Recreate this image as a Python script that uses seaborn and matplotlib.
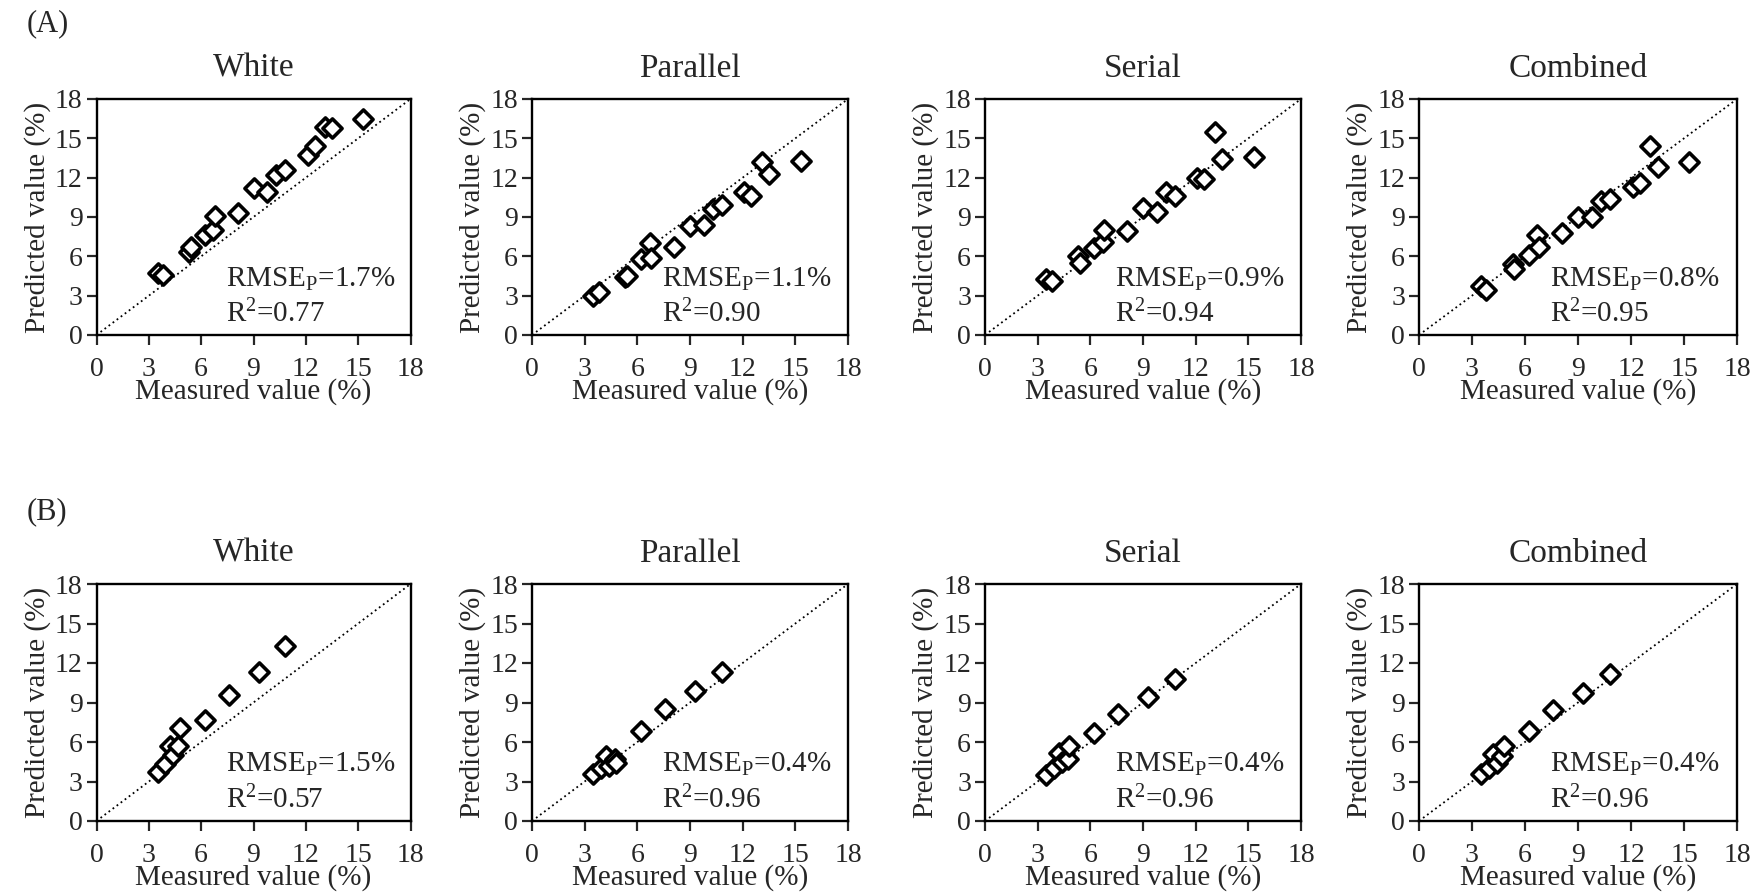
import numpy as np
import pandas as pd
import matplotlib
matplotlib.use('Agg')
import matplotlib.pyplot as plt
import seaborn as sns

# measured values (x), shared by all panels of a row
measured_a = [3.5, 3.8, 5.3, 5.4, 6.2, 6.7, 6.8, 8.1, 9.0, 9.8, 10.3, 10.8, 12.1, 12.5, 13.1, 13.5, 15.3]
measured_b = [3.5, 3.95, 4.2, 4.4, 4.7, 4.8, 6.2, 7.6, 9.3, 10.8]

# predicted values (y)
white_a = [4.7, 4.6, 6.3, 6.7, 7.6, 8.0, 9.1, 9.3, 11.2, 10.9, 12.2, 12.6, 13.7, 14.4, 15.9, 15.8, 16.5]
parallel_a = [3.0, 3.3, 4.4, 4.5, 5.8, 7.0, 5.9, 6.7, 8.3, 8.4, 9.6, 9.9, 10.9, 10.6, 13.2, 12.3, 13.3]
serial_a = [4.3, 4.1, 6.0, 5.5, 6.6, 7.1, 8.0, 7.9, 9.7, 9.4, 10.9, 10.6, 12.0, 11.9, 15.5, 13.4, 13.6]
combined_a = [3.7, 3.4, 5.4, 5.0, 6.1, 7.6, 6.7, 7.8, 9.0, 9.0, 10.2, 10.4, 11.3, 11.6, 14.4, 12.8, 13.2]

white_b = [3.7, 4.3, 5.7, 5.0, 5.7, 7.1, 7.7, 9.6, 11.3, 13.3]
parallel_b = [3.6, 4.0, 4.9, 4.2, 4.7, 4.4, 6.8, 8.5, 9.9, 11.3]
serial_b = [3.5, 4.0, 5.2, 4.5, 4.7, 5.7, 6.7, 8.1, 9.4, 10.8]
combined_b = [3.55, 4.05, 5.1, 4.4, 4.9, 5.7, 6.85, 8.4, 9.7, 11.2]

titles = ['White', 'Parallel', 'Serial', 'Combined']
rmse_a = ['1.7', '1.1', '0.9', '0.8']
r2_a = ['0.77', '0.90', '0.94', '0.95']
rmse_b = ['1.5', '0.4', '0.4', '0.4']
r2_b = ['0.57', '0.96', '0.96', '0.96']

W, H = 1762, 894
col_px = [(96.5, 410.5), (532, 848), (985, 1301), (1419, 1737)]
row_px = [(99, 335), (584, 821)]


def px_axes(fig, x0, x1, y0, y1):
    return fig.add_axes([x0 / W, 1 - y1 / H, (x1 - x0) / W, (y1 - y0) / H])


def draw_panel(ax, x, y, title, rmse, r2):
    df = pd.DataFrame({'measured': x, 'predicted': y})
    ax.plot([0, 18], [0, 18], color='black', ls=(0, (1, 1.8)), lw=1.3, zorder=1)
    sns.scatterplot(data=df, x='measured', y='predicted', ax=ax, marker='D', s=95,
                    color='white', edgecolor='black', linewidth=2.6, zorder=3)
    ax.set_xlim(0, 18)
    ax.set_ylim(0, 18)
    ax.set_xticks(np.arange(0, 19, 3))
    ax.set_yticks(np.arange(0, 19, 3))
    ax.tick_params(direction='out', length=7, width=1.6, labelsize=20, pad=3)
    ax.tick_params(axis='x', pad=9)
    for s in ax.spines.values():
        s.set_linewidth(1.7)
        s.set_color('black')
    ax.set_xlabel('Measured value (%)', fontsize=21, labelpad=-3)
    ax.set_ylabel('Predicted value (%)', fontsize=21, labelpad=3)
    ax.set_title(title, fontsize=24, pad=16)
    ax.text(7.4, 3.7, 'RMSE$_\\mathrm{P}$=' + rmse + '%', fontsize=21, va='baseline')
    ax.text(7.4, 1.0, 'R$^2$=' + r2, fontsize=21, va='baseline')


def main():
    sns.set_style('ticks')
    plt.rcParams['font.family'] = ['Liberation Serif', 'DejaVu Serif']
    plt.rcParams['mathtext.fontset'] = 'custom'
    plt.rcParams['mathtext.rm'] = 'Liberation Serif'
    plt.rcParams['mathtext.it'] = 'Liberation Serif:italic'

    fig = plt.figure(figsize=(W / 100, H / 100), dpi=100)

    rows = [
        (measured_a, [white_a, parallel_a, serial_a, combined_a], rmse_a, r2_a),
        (measured_b, [white_b, parallel_b, serial_b, combined_b], rmse_b, r2_b),
    ]
    for r, (mx, preds, rm, rr) in enumerate(rows):
        y0, y1 = row_px[r]
        for c in range(4):
            x0, x1 = col_px[c]
            ax = px_axes(fig, x0, x1, y0, y1)
            draw_panel(ax, mx, preds[c], titles[c], rm[c], rr[c])

    fig.text(27 / W, 1 - 24 / H, '(A)', fontsize=22, va='center', ha='left')
    fig.text(27 / W, 1 - 512 / H, '(B)', fontsize=22, va='center', ha='left')

    fig.savefig('out.png', dpi=100)


if __name__ == '__main__':
    main()
